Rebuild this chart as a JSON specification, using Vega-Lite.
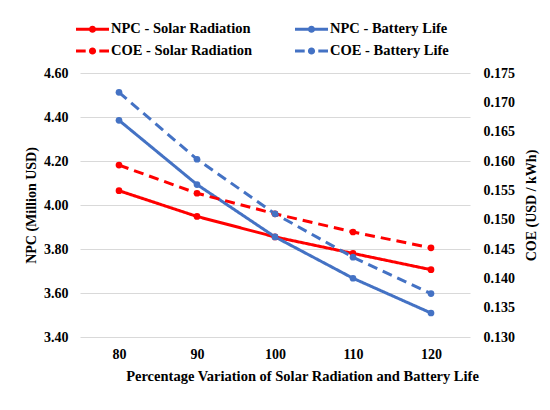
{
  "$schema": "https://vega.github.io/schema/vega-lite/v6.json",
  "width": 390,
  "height": 264,
  "autosize": {"type": "none"},
  "padding": {"left": 80, "top": 73, "right": 80, "bottom": 73},
  "background": "white",
  "data": {
    "values": [
      {"pct": 80, "series": "NPC - Solar Radiation", "measure": "NPC", "value": 4.065},
      {"pct": 90, "series": "NPC - Solar Radiation", "measure": "NPC", "value": 3.948},
      {"pct": 100, "series": "NPC - Solar Radiation", "measure": "NPC", "value": 3.855},
      {"pct": 110, "series": "NPC - Solar Radiation", "measure": "NPC", "value": 3.780},
      {"pct": 120, "series": "NPC - Solar Radiation", "measure": "NPC", "value": 3.706},
      {"pct": 80, "series": "NPC - Battery Life", "measure": "NPC", "value": 4.385},
      {"pct": 90, "series": "NPC - Battery Life", "measure": "NPC", "value": 4.093},
      {"pct": 100, "series": "NPC - Battery Life", "measure": "NPC", "value": 3.855},
      {"pct": 110, "series": "NPC - Battery Life", "measure": "NPC", "value": 3.667},
      {"pct": 120, "series": "NPC - Battery Life", "measure": "NPC", "value": 3.509},
      {"pct": 80, "series": "COE - Solar Radiation", "measure": "COE", "value": 0.1593},
      {"pct": 90, "series": "COE - Solar Radiation", "measure": "COE", "value": 0.1545},
      {"pct": 100, "series": "COE - Solar Radiation", "measure": "COE", "value": 0.1510},
      {"pct": 110, "series": "COE - Solar Radiation", "measure": "COE", "value": 0.1479},
      {"pct": 120, "series": "COE - Solar Radiation", "measure": "COE", "value": 0.1452},
      {"pct": 80, "series": "COE - Battery Life", "measure": "COE", "value": 0.1717},
      {"pct": 90, "series": "COE - Battery Life", "measure": "COE", "value": 0.1603},
      {"pct": 100, "series": "COE - Battery Life", "measure": "COE", "value": 0.1510},
      {"pct": 110, "series": "COE - Battery Life", "measure": "COE", "value": 0.1436},
      {"pct": 120, "series": "COE - Battery Life", "measure": "COE", "value": 0.1374}
    ]
  },
  "encoding": {
    "x": {
      "field": "pct",
      "type": "ordinal",
      "scale": {"type": "point", "padding": 0.5},
      "axis": {
        "title": "Percentage Variation of Solar Radiation and Battery Life",
        "labelAngle": 0,
        "labelPadding": 10,
        "ticks": false,
        "domain": false,
        "titlePadding": 8,
        "titleFontSize": 14.5,
        "titleX": 222
      }
    },
    "color": {
      "field": "series",
      "type": "nominal",
      "scale": {
        "domain": ["NPC - Solar Radiation", "COE - Solar Radiation", "NPC - Battery Life", "COE - Battery Life"],
        "range": ["#FF0000", "#FF0000", "#4472C4", "#4472C4"]
      },
      "legend": {
        "orient": "none",
        "legendX": 2.5,
        "legendY": -54,
        "columns": 2,
        "columnPadding": 42,
        "rowPadding": 5,
        "title": null,
        "symbolSize": 400,
        "labelOffset": 8.5,
        "encode": {
          "symbols": {
            "update": {
              "shape": {
                "signal": "indexof(datum.value, 'COE') == 0 ? 'M-1.65,-0.15H-0.68V0.15H-1.65Z M0.68,-0.15H1.65V0.15H0.68Z M0,-0.36A0.36,0.36 0 1,1 0,0.36A0.36,0.36 0 1,1 0,-0.36Z' : 'M-1.65,-0.15H1.65V0.15H-1.65Z M0,-0.36A0.36,0.36 0 1,1 0,0.36A0.36,0.36 0 1,1 0,-0.36Z'"
              },
              "fill": {"signal": "scale('color', datum.value)"},
              "fillOpacity": {"value": 1},
              "strokeWidth": {"value": 0}
            }
          }
        }
      }
    },
    "strokeDash": {
      "field": "series",
      "type": "nominal",
      "scale": {
        "domain": ["NPC - Solar Radiation", "COE - Solar Radiation", "NPC - Battery Life", "COE - Battery Life"],
        "range": [[1, 0], [10, 6], [1, 0], [10, 6]]
      },
      "legend": null
    }
  },
  "layer": [
    {
      "transform": [{"filter": "datum.measure == 'NPC'"}],
      "encoding": {
        "y": {
          "field": "value",
          "type": "quantitative",
          "scale": {"domain": [3.4, 4.6], "nice": false, "zero": false},
          "axis": {
            "title": "NPC (Million USD)",
            "values": [3.4, 3.6, 3.8, 4.0, 4.2, 4.4, 4.6],
            "format": ".2f",
            "orient": "left",
            "ticks": false,
            "domain": false,
            "labelPadding": 12,
            "titlePadding": 5,
            "grid": true
          }
        }
      },
      "layer": [
        {"mark": {"type": "line", "strokeWidth": 3}},
        {"mark": {"type": "point", "filled": true, "size": 45, "opacity": 1}}
      ]
    },
    {
      "transform": [{"filter": "datum.measure == 'COE'"}],
      "encoding": {
        "y": {
          "field": "value",
          "type": "quantitative",
          "scale": {"domain": [0.13, 0.175], "nice": false, "zero": false},
          "axis": {
            "title": "COE (USD / kWh)",
            "values": [0.13, 0.135, 0.14, 0.145, 0.15, 0.155, 0.16, 0.165, 0.17, 0.175],
            "format": ".3f",
            "orient": "right",
            "ticks": false,
            "domain": false,
            "labelPadding": 13,
            "titlePadding": 10,
            "titleAngle": 270,
            "titleBaseline": "top",
            "grid": false
          }
        }
      },
      "layer": [
        {"mark": {"type": "line", "strokeWidth": 3}},
        {"mark": {"type": "point", "filled": true, "size": 45, "opacity": 1}}
      ]
    }
  ],
  "resolve": {"scale": {"y": "independent"}},
  "config": {
    "font": "Liberation Serif",
    "view": {"stroke": null},
    "axis": {
      "labelFont": "Liberation Serif",
      "titleFont": "Liberation Serif",
      "labelFontSize": 14,
      "titleFontSize": 14,
      "labelFontWeight": "bold",
      "titleFontWeight": "bold",
      "labelColor": "#000000",
      "titleColor": "#000000",
      "gridColor": "#D9D9D9",
      "gridWidth": 1
    },
    "legend": {
      "labelFont": "Liberation Serif",
      "labelFontSize": 14.5,
      "labelFontWeight": "bold",
      "labelColor": "#000000",
      "labelLimit": 300
    }
  }
}
